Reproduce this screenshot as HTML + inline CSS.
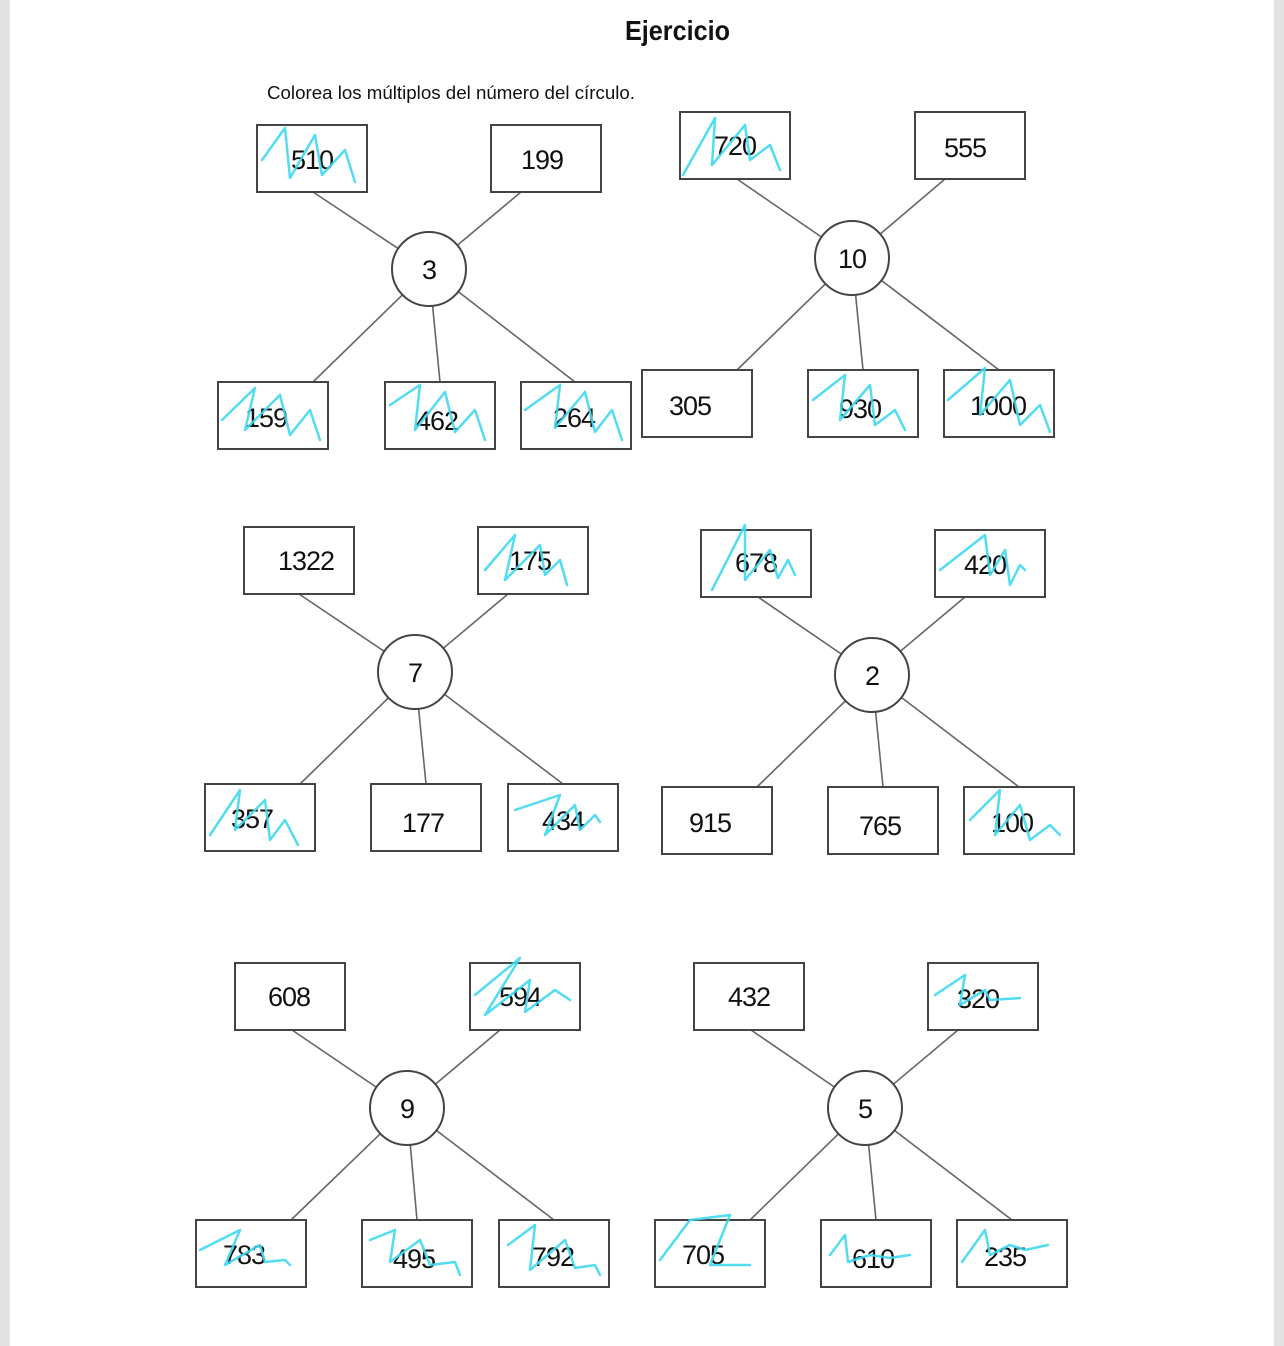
<!DOCTYPE html>
<html><head><meta charset="utf-8"><style>
html,body{margin:0;padding:0;background:#fff;}
svg{display:block}
text{font-family:"Liberation Sans",sans-serif;fill:#111}
.n{font-size:27px;text-anchor:middle;letter-spacing:-1px}
rect.b{fill:#fff;stroke:#444;stroke-width:2}
circle{fill:#fff;stroke:#444;stroke-width:2}
line{stroke:#666;stroke-width:1.6}
.s{fill:none;stroke:#3fd8f0;stroke-width:2.5;stroke-linejoin:round;stroke-linecap:round;opacity:.9}
</style></head><body>
<svg width="1284" height="1346" viewBox="0 0 1284 1346">
<rect x="0" y="0" width="10" height="1346" fill="#e2e2e2"/>
<rect x="1274" y="0" width="10" height="1346" fill="#e2e2e2"/>
<text x="625" y="40" font-size="28" font-weight="bold" textLength="105" lengthAdjust="spacingAndGlyphs">Ejercicio</text>
<text x="267" y="99" font-size="18" textLength="368" lengthAdjust="spacingAndGlyphs">Colorea los múltiplos del número del círculo.</text>

<!-- Group 1 -->
<line x1="313" y1="192" x2="429" y2="269"/><line x1="521" y1="192" x2="429" y2="269"/>
<line x1="313" y1="382" x2="429" y2="269"/><line x1="440" y1="382" x2="429" y2="269"/><line x1="575" y1="382" x2="429" y2="269"/>
<rect class="b" x="257" y="125" width="110" height="67"/><text class="n" x="312" y="169">510</text>
<rect class="b" x="491" y="125" width="110" height="67"/><text class="n" x="542" y="169">199</text>
<rect class="b" x="218" y="382" width="110" height="67"/><text class="n" x="266" y="427">159</text>
<rect class="b" x="385" y="382" width="110" height="67"/><text class="n" x="437" y="430">462</text>
<rect class="b" x="521" y="382" width="110" height="67"/><text class="n" x="574" y="427">264</text>
<circle cx="429" cy="269" r="37"/><text class="n" x="429" y="279">3</text>
<path class="s" d="M262,160 L285,128 L290,178 L315,135 L322,175 L345,150 L355,182"/>
<path class="s" d="M222,420 L255,388 L245,430 L280,395 L290,435 L310,410 L320,440"/>
<path class="s" d="M390,405 L420,385 L415,430 L445,392 L455,432 L475,410 L485,440"/>
<path class="s" d="M525,410 L560,385 L555,428 L585,392 L595,432 L612,410 L622,440"/>

<!-- Group 2 -->
<line x1="737" y1="179" x2="852" y2="258"/><line x1="945" y1="179" x2="852" y2="258"/>
<line x1="737" y1="370" x2="852" y2="258"/><line x1="863" y1="370" x2="852" y2="258"/><line x1="999" y1="370" x2="852" y2="258"/>
<rect class="b" x="680" y="112" width="110" height="67"/><text class="n" x="735" y="155">720</text>
<rect class="b" x="915" y="112" width="110" height="67"/><text class="n" x="965" y="157">555</text>
<rect class="b" x="642" y="370" width="110" height="67"/><text class="n" x="690" y="415">305</text>
<rect class="b" x="808" y="370" width="110" height="67"/><text class="n" x="860" y="418">930</text>
<rect class="b" x="944" y="370" width="110" height="67"/><text class="n" x="998" y="415">1000</text>
<circle cx="852" cy="258" r="37"/><text class="n" x="852" y="268">10</text>
<path class="s" d="M683,175 L715,118 L712,165 L745,125 L750,160 L770,145 L780,170"/>
<path class="s" d="M813,400 L845,375 L840,420 L870,385 L875,425 L895,410 L905,430"/>
<path class="s" d="M948,400 L985,368 L980,415 L1010,380 L1020,425 L1040,405 L1050,432"/>

<!-- Group 3 -->
<line x1="299" y1="594" x2="415" y2="672"/><line x1="508" y1="594" x2="415" y2="672"/>
<line x1="300" y1="784" x2="415" y2="672"/><line x1="426" y1="784" x2="415" y2="672"/><line x1="563" y1="784" x2="415" y2="672"/>
<rect class="b" x="244" y="527" width="110" height="67"/><text class="n" x="306" y="570">1322</text>
<rect class="b" x="478" y="527" width="110" height="67"/><text class="n" x="530" y="570">175</text>
<rect class="b" x="205" y="784" width="110" height="67"/><text class="n" x="252" y="828">357</text>
<rect class="b" x="371" y="784" width="110" height="67"/><text class="n" x="423" y="832">177</text>
<rect class="b" x="508" y="784" width="110" height="67"/><text class="n" x="563" y="830">434</text>
<circle cx="415" cy="672" r="37"/><text class="n" x="415" y="682">7</text>
<path class="s" d="M485,570 L515,535 L505,580 L540,545 L545,575 L560,560 L567,585"/>
<path class="s" d="M210,835 L240,790 L235,830 L265,800 L270,840 L285,820 L298,845"/>
<path class="s" d="M515,810 L560,795 L545,835 L575,805 L580,830 L595,815 L600,822"/>

<!-- Group 4 -->
<line x1="758" y1="597" x2="872" y2="675"/><line x1="965" y1="597" x2="872" y2="675"/>
<line x1="757" y1="787" x2="872" y2="675"/><line x1="883" y1="787" x2="872" y2="675"/><line x1="1019" y1="787" x2="872" y2="675"/>
<rect class="b" x="701" y="530" width="110" height="67"/><text class="n" x="756" y="572">678</text>
<rect class="b" x="935" y="530" width="110" height="67"/><text class="n" x="985" y="574">420</text>
<rect class="b" x="662" y="787" width="110" height="67"/><text class="n" x="710" y="832">915</text>
<rect class="b" x="828" y="787" width="110" height="67"/><text class="n" x="880" y="835">765</text>
<rect class="b" x="964" y="787" width="110" height="67"/><text class="n" x="1012" y="832">100</text>
<circle cx="872" cy="675" r="37"/><text class="n" x="872" y="685">2</text>
<path class="s" d="M712,590 L745,525 L745,580 L770,550 L778,578 L788,560 L795,575"/>
<path class="s" d="M940,570 L985,535 L990,575 L1005,550 L1010,585 L1020,565 L1025,570"/>
<path class="s" d="M970,820 L1000,790 L995,835 L1020,805 L1030,840 L1050,825 L1060,835"/>

<!-- Group 5 -->
<line x1="292" y1="1030" x2="407" y2="1108"/><line x1="500" y1="1030" x2="407" y2="1108"/>
<line x1="291" y1="1220" x2="407" y2="1108"/><line x1="417" y1="1220" x2="407" y2="1108"/><line x1="554" y1="1220" x2="407" y2="1108"/>
<rect class="b" x="235" y="963" width="110" height="67"/><text class="n" x="289" y="1006">608</text>
<rect class="b" x="470" y="963" width="110" height="67"/><text class="n" x="520" y="1006">594</text>
<rect class="b" x="196" y="1220" width="110" height="67"/><text class="n" x="244" y="1264">783</text>
<rect class="b" x="362" y="1220" width="110" height="67"/><text class="n" x="414" y="1268">495</text>
<rect class="b" x="499" y="1220" width="110" height="67"/><text class="n" x="553" y="1266">792</text>
<circle cx="407" cy="1108" r="37"/><text class="n" x="407" y="1118">9</text>
<path class="s" d="M475,995 L520,958 L485,1015 L530,980 L525,1012 L555,990 L570,1000"/>
<path class="s" d="M200,1250 L240,1230 L225,1265 L260,1245 L265,1262 L285,1260 L290,1265"/>
<path class="s" d="M370,1240 L395,1230 L390,1262 L420,1240 L430,1265 L455,1262 L460,1275"/>
<path class="s" d="M508,1245 L535,1225 L530,1270 L565,1240 L575,1268 L595,1265 L600,1275"/>

<!-- Group 6 -->
<line x1="751" y1="1030" x2="865" y2="1108"/><line x1="958" y1="1030" x2="865" y2="1108"/>
<line x1="750" y1="1220" x2="865" y2="1108"/><line x1="876" y1="1220" x2="865" y2="1108"/><line x1="1012" y1="1220" x2="865" y2="1108"/>
<rect class="b" x="694" y="963" width="110" height="67"/><text class="n" x="749" y="1006">432</text>
<rect class="b" x="928" y="963" width="110" height="67"/><text class="n" x="978" y="1008">320</text>
<rect class="b" x="655" y="1220" width="110" height="67"/><text class="n" x="703" y="1264">705</text>
<rect class="b" x="821" y="1220" width="110" height="67"/><text class="n" x="873" y="1268">610</text>
<rect class="b" x="957" y="1220" width="110" height="67"/><text class="n" x="1005" y="1266">235</text>
<circle cx="865" cy="1108" r="37"/><text class="n" x="865" y="1118">5</text>
<path class="s" d="M935,995 L965,975 L960,1005 L985,990 L990,1000 L1020,998"/>
<path class="s" d="M660,1260 L690,1220 L730,1215 L710,1265 L750,1265"/>
<path class="s" d="M830,1255 L845,1235 L848,1262 L870,1255 L890,1258 L910,1255"/>
<path class="s" d="M962,1262 L985,1230 L990,1255 L1010,1245 L1025,1250 L1048,1245"/>
</svg>
</body></html>
